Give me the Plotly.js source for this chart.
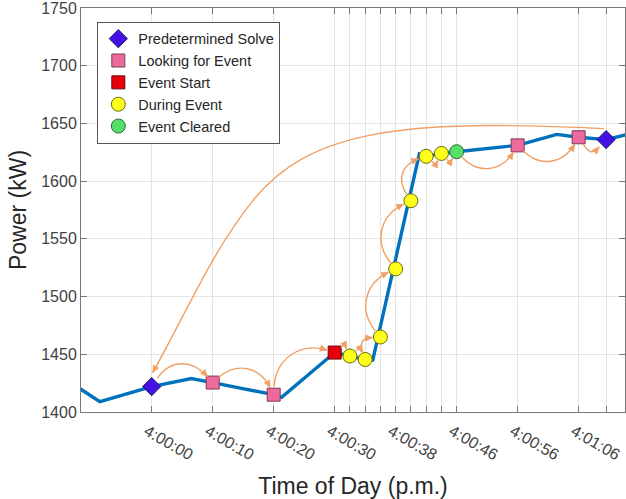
<!DOCTYPE html>
<html><head><meta charset="utf-8">
<script src="https://cdn.plot.ly/plotly-3.0.1.min.js"></script>
<style>html,body{margin:0;padding:0;background:#fff}#chart{width:626px;height:499px}</style>
</head><body><div id="chart"></div>
<script>
// ---- DATA (time = seconds after 4:00:00 p.m., power in kW) ----
const lineTime  = [-12, -8.5, 0, 6.5, 10, 20, 21.3, 30, 32, 34, 35, 41.1, 42, 44, 46, 56, 62.4, 66, 70, 74];
const linePower = [1421, 1409, 1422, 1429, 1425.5, 1415, 1412.7, 1451.5, 1448.5, 1445.5, 1445, 1623.5, 1621.5, 1624, 1625.5, 1631, 1640.5, 1638, 1636, 1641];

const solveTime = [0, 70];
const solvePower = [1422, 1636];
const lookTime = [10, 20, 56, 66];
const lookPower = [1425.5, 1415, 1631, 1638];
const startTime = [30];
const startPower = [1451.5];
const duringTime = [32, 34, 36, 38, 40, 42, 44];
const duringPower = [1448.5, 1445.5, 1465, 1524, 1583, 1621.5, 1624];
const clearedTime = [46];
const clearedPower = [1625.5];

const tickTimes  = [0, 10, 20, 30, 32, 34, 36, 38, 40, 42, 44, 46, 56, 66, 70];
const tickLabels = ['4:00:00','4:00:10','4:00:20','4:00:30','','','','4:00:38','','','','4:00:46','4:00:56','4:01:06',''];
const powerTicks = [1400, 1450, 1500, 1550, 1600, 1650, 1700, 1750];

// piecewise axis scale of the original figure (time -> axis position)
const WARP_T = [-15, 0, 30, 46, 66, 70, 80];
const WARP_U = [-6, 0, 12, 20, 28, 29.8, 33.8];
function warp(t){
  for (let i=0;i<WARP_T.length-1;i++){
    if (t<=WARP_T[i+1] || i===WARP_T.length-2){
      const f=(t-WARP_T[i])/(WARP_T[i+1]-WARP_T[i]);
      return WARP_U[i]+f*(WARP_U[i+1]-WARP_U[i]);
    }
  }
}

// ---- layout geometry ----
const W=626, H=499, M={l:81, r:1, t:8, b:87};
const XR=[-4.636, 31.04], YR=[1400, 1750];
const pw=W-M.l-M.r, ph=H-M.t-M.b;
const u2px=u=>M.l+(u-XR[0])/(XR[1]-XR[0])*pw;
const px2u=px=>XR[0]+(px-M.l)/pw*(XR[1]-XR[0]);
const p2py=p=>M.t+(YR[1]-p)/(YR[1]-YR[0])*ph;
const py2p=py=>YR[1]-(py-M.t)/ph*(YR[1]-YR[0]);
const toPx=(t,p)=>({x:u2px(warp(t)), y:p2py(p)});
const pt=P=>px2u(P.x).toFixed(4)+','+py2p(P.y).toFixed(3);

const ORANGE='#EFA066';
const shapes=[];
function addHead(E, from){
  let dx=E.x-from.x, dy=E.y-from.y; const L=Math.hypot(dx,dy); dx/=L; dy/=L;
  const bx=E.x-7*dx, by=E.y-7*dy, qx=-dy, qy=dx;
  shapes.push({type:'path', xref:'x', yref:'y', layer:'above',
    path:'M'+pt(E)+' L'+pt({x:bx+3.2*qx,y:by+3.2*qy})+' L'+pt({x:bx-3.2*qx,y:by-3.2*qy})+' Z',
    fillcolor:ORANGE, line:{color:ORANGE, width:0.5}});
}
function addArrow(A,B,rA,rB,side){
  const dx=B.x-A.x, dy=B.y-A.y, L=Math.hypot(dx,dy);
  const ex=dx/L, ey=dy/L, nx=ey, ny=-ex;
  const th=52*Math.PI/180, c=Math.cos(th), s=Math.sin(th)*side;
  const d1={x:c*ex+s*nx, y:c*ey+s*ny}, d2={x:-c*ex+s*nx, y:-c*ey+s*ny};
  const S={x:A.x+rA*d1.x, y:A.y+rA*d1.y}, E={x:B.x+rB*d2.x, y:B.y+rB*d2.y};
  const k=0.38*L;
  const C1={x:S.x+k*d1.x, y:S.y+k*d1.y}, C2={x:E.x+k*d2.x, y:E.y+k*d2.y};
  shapes.push({type:'path', xref:'x', yref:'y', layer:'above',
    path:'M'+pt(S)+' C'+pt(C1)+' '+pt(C2)+' '+pt(E), line:{color:ORANGE, width:1.4}});
  addHead(E, C2);
}

const events=[];
solveTime.forEach((t,i)=>events.push({t, p:solvePower[i], r:10}));
lookTime.forEach((t,i)=>events.push({t, p:lookPower[i], r:8}));
startTime.forEach((t,i)=>events.push({t, p:startPower[i], r:8}));
duringTime.forEach((t,i)=>events.push({t, p:duringPower[i], r:8}));
clearedTime.forEach((t,i)=>events.push({t, p:clearedPower[i], r:8}));
events.sort((a,b)=>a.t-b.t);
const FLIP_AFTER=42;
for (let i=0;i<events.length-1;i++){
  const a=events[i], b=events[i+1];
  addArrow(toPx(a.t,a.p), toPx(b.t,b.p), a.r, b.r, a.t<FLIP_AFTER?1:-1);
}
// long return arc from last solve back to first solve
(function(){
  const D0=toPx(solveTime[0], solvePower[0]), D1=toPx(solveTime[solveTime.length-1], solvePower[solvePower.length-1]);
  const Ps={x:D1.x-2, y:D1.y-11}, Pe={x:D0.x+1, y:D0.y-14};
  const dxT=Ps.x-Pe.x, dyT=Pe.y-Ps.y;
  const Wp ={x:Pe.x+0.222*dxT, y:Ps.y+0.295*dyT};
  const C1a={x:Pe.x+0.548*dxT, y:Ps.y-0.041*dyT};
  const C2a={x:Pe.x+0.347*dxT, y:Ps.y+0.0082*dyT};
  const C1b={x:Wp.x+0.733*(Wp.x-C2a.x), y:Wp.y+0.733*(Wp.y-C2a.y)};
  const C2b={x:Pe.x+0.072*dxT, y:Pe.y-0.235*dyT};
  shapes.push({type:'path', xref:'x', yref:'y', layer:'above',
    path:'M'+pt(Ps)+' C'+pt(C1a)+' '+pt(C2a)+' '+pt(Wp)+' C'+pt(C1b)+' '+pt(C2b)+' '+pt(Pe),
    line:{color:ORANGE, width:1.4}});
  addHead(Pe, C2b);
})();

const traces=[
  {x:lineTime.map(warp), y:linePower, mode:'lines', line:{color:'#0072BD', width:3.4}, showlegend:false, hoverinfo:'skip'},
  {x:solveTime.map(warp), y:solvePower, mode:'markers', name:'Predetermined Solve',
   marker:{symbol:'diamond', size:14, color:'#4512E6', line:{color:'#1f1a66', width:1}}},
  {x:lookTime.map(warp), y:lookPower, mode:'markers', name:'Looking for Event',
   marker:{symbol:'square', size:13, color:'#EF6A9C', line:{color:'#7a3a55', width:1}}},
  {x:startTime.map(warp), y:startPower, mode:'markers', name:'Event Start',
   marker:{symbol:'square', size:13, color:'#E8000B', line:{color:'#6a0a0a', width:1}}},
  {x:duringTime.map(warp), y:duringPower, mode:'markers', name:'During Event',
   marker:{symbol:'circle', size:14, color:'#FFFF1A', line:{color:'#6b6b10', width:1}}},
  {x:clearedTime.map(warp), y:clearedPower, mode:'markers', name:'Event Cleared',
   marker:{symbol:'circle', size:14, color:'#55E06A', line:{color:'#2f6b35', width:1}}}
];

const axisCommon={showline:true, linecolor:'#777', linewidth:1, mirror:'ticks', ticks:'inside', ticklen:6,
  tickcolor:'#777', showgrid:true, gridcolor:'#e4e4e4', gridwidth:1, zeroline:false, automargin:false,
  ticklabeloverflow:'allow'};
const layout={
  width:W, height:H, margin:M, paper_bgcolor:'#fff', plot_bgcolor:'#fff',
  font:{family:'"Liberation Sans", Arial, sans-serif', color:'#262626'},
  xaxis:Object.assign({}, axisCommon, {range:XR, tickmode:'array', tickvals:tickTimes.map(warp), ticktext:tickLabels,
    tickangle:30, ticklabelshift:-5, ticklabelstandoff:3, tickfont:{size:16, color:'#404040'},
    title:{text:'Time of Day (p.m.)', font:{size:23, color:'#262626'}, standoff:16}}),
  yaxis:Object.assign({}, axisCommon, {range:YR, tickmode:'array', tickvals:powerTicks, ticktext:powerTicks.map(String),
    tickfont:{size:16, color:'#404040'},
    title:{text:'Power (kW)', font:{size:23, color:'#262626'}, standoff:8}}),
  legend:{x:0.03, y:0.966, xanchor:'left', yanchor:'top', bgcolor:'#fff', bordercolor:'#555', borderwidth:1,
    font:{size:14.5, color:'#262626'}},
  showlegend:true, shapes:shapes
};
Plotly.newPlot('chart', traces, layout, {displayModeBar:false, staticPlot:true});
</script>
</body></html>
